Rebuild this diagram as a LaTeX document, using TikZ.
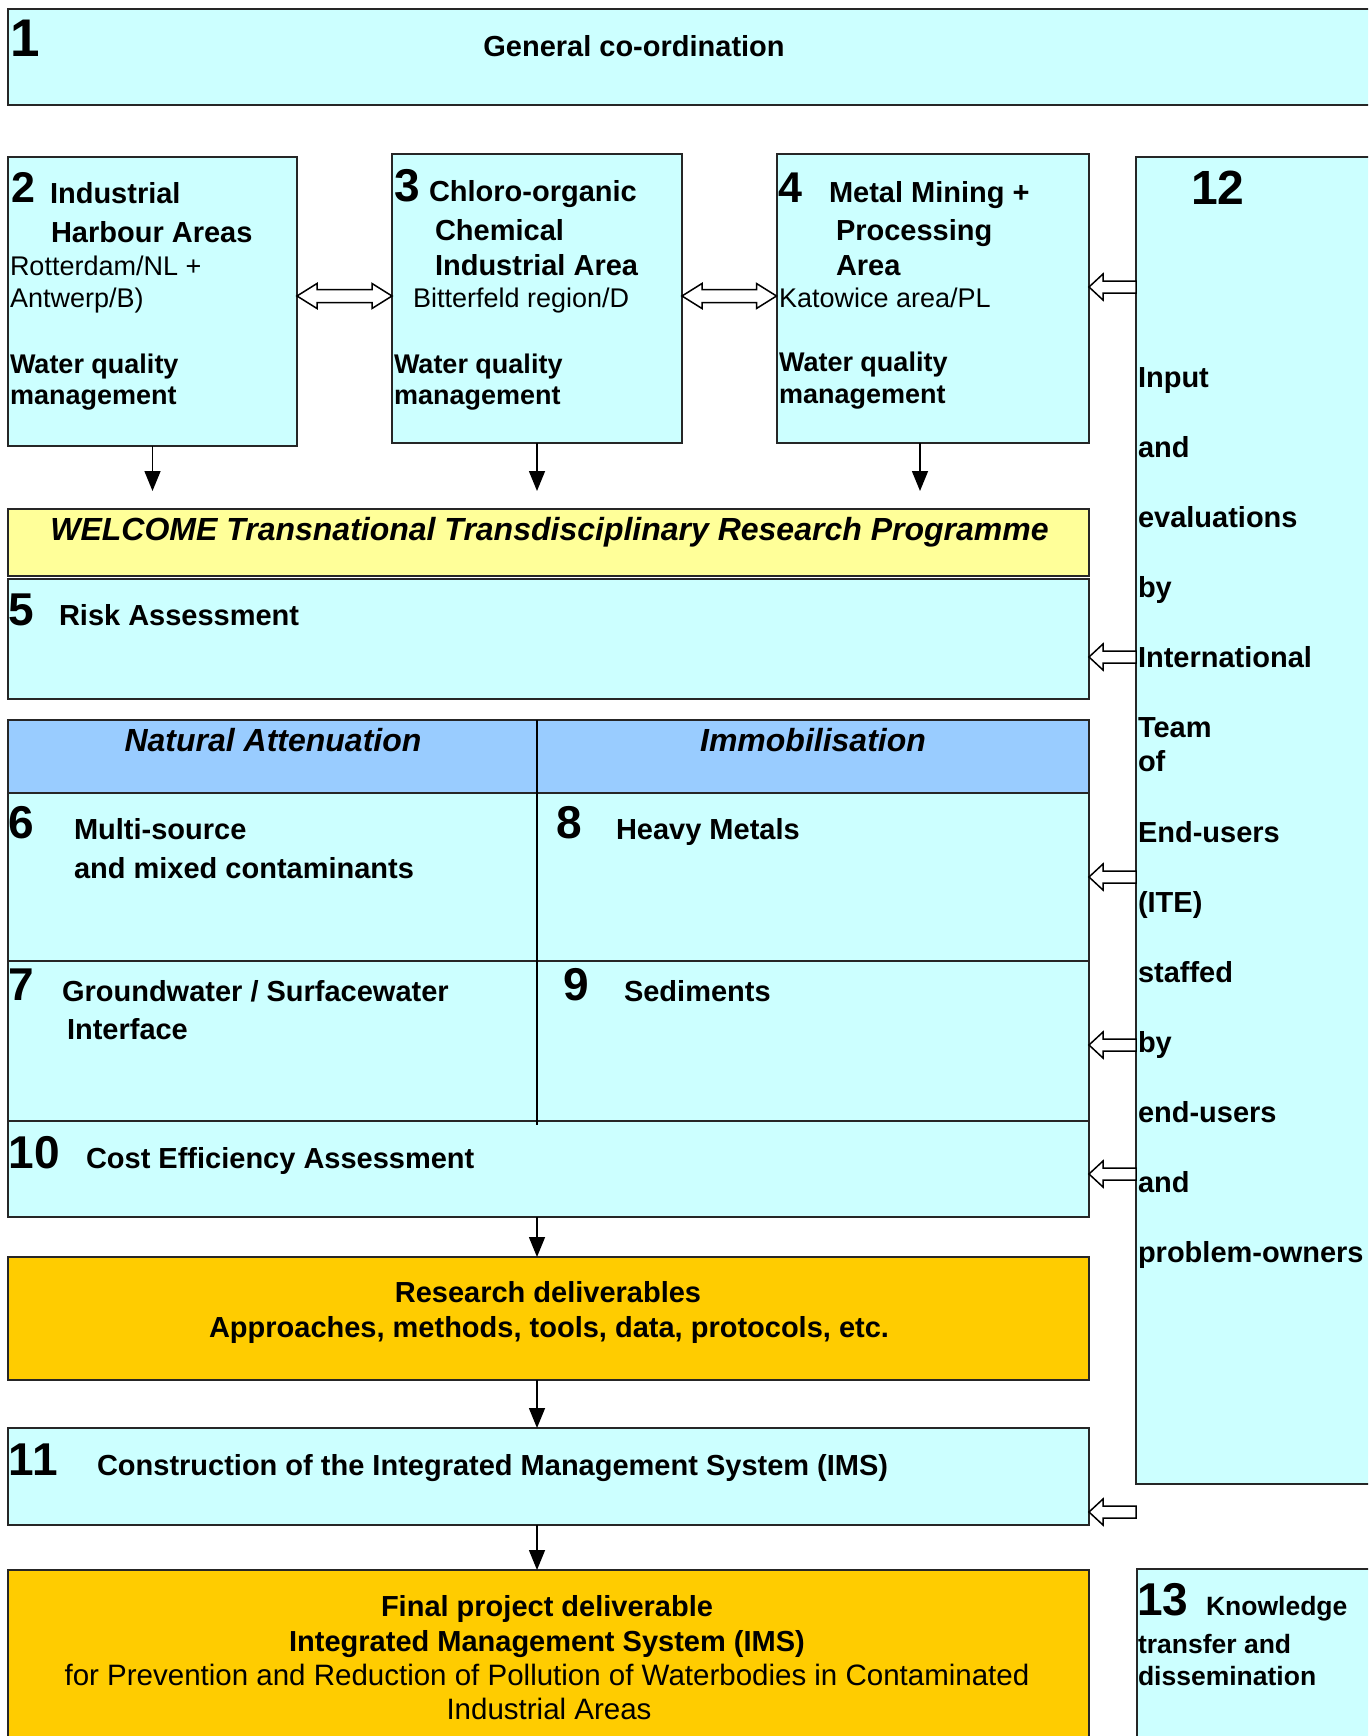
\documentclass[tikz,border=0pt]{standalone}
\usepackage{fontspec}
\setmainfont{Liberation Sans}
\usetikzlibrary{calc,arrows.meta}
\definecolor{cyanc}{HTML}{CCFFFF}
\definecolor{yelc}{HTML}{FFFF99}
\definecolor{bluec}{HTML}{99CCFF}
\definecolor{orac}{HTML}{FFCC00}
\newcommand\harrowL[2]{\draw[hollow] let \p1=(#1),\p2=(#2) in
  (\x1,\y1+6pt) -- (\x2+14pt,\y1+6pt) -- (\x2+14pt,\y1+13pt) -- (\x2,\y1) --
  (\x2+14pt,\y1-13pt) -- (\x2+14pt,\y1-6pt) -- (\x1,\y1-6pt) -- cycle;}
\newcommand\harrowLR[2]{\draw[hollow] let \p1=(#1),\p2=(#2) in
  (\x1,\y1) -- (\x1+20pt,\y1+12.5pt) -- (\x1+20pt,\y1+6.5pt) -- (\x2-20pt,\y1+6.5pt) --
  (\x2-20pt,\y1+12.5pt) -- (\x2,\y1) -- (\x2-20pt,\y1-12.5pt) -- (\x2-20pt,\y1-6.5pt) --
  (\x1+20pt,\y1-6.5pt) -- (\x1+20pt,\y1-12.5pt) -- cycle;}
\begin{document}
\begin{tikzpicture}[x=1pt,y=-1pt,
  box/.style={draw=black!85, line width=2pt, inner sep=0, outer sep=0, anchor=north west},
  darrow/.style={line width=1.5pt, -{Triangle[length=20pt,width=16pt]}},
  hollow/.style={draw=black, line width=1.5pt, fill=white, line join=miter},
  tl/.style={inner sep=0, outer sep=0, anchor=base west},
  tc/.style={inner sep=0, outer sep=0, anchor=base},
  fT/.style={font=\fontsize{29}{35}\selectfont\bfseries},
  fTI/.style={font=\fontsize{32}{36}\selectfont\bfseries\itshape},
  fB/.style={font=\fontsize{27}{32}\selectfont\bfseries},
  fR/.style={font=\fontsize{27}{32}\selectfont},
  fRL/.style={font=\fontsize{29.5}{34}\selectfont},
  fK/.style={font=\fontsize{26.5}{32}\selectfont\bfseries},
  num/.style={font=\fontsize{46}{50}\selectfont\bfseries},
]
\useasboundingbox (0,0) rectangle (1368,1736);
\clip (0,0) rectangle (1368,1736);

% boxes
\node[box,fill=cyanc,minimum width=1392,minimum height=96] (b1) at (8,9) {};
\node[box,fill=cyanc,minimum width=289,minimum height=289] (b2) at (8,157) {};
\node[box,fill=cyanc,minimum width=290,minimum height=289] (b3) at (392,154) {};
\node[box,fill=cyanc,minimum width=312.5,minimum height=289] (b4) at (776.5,154) {};
\node[box,fill=cyanc,minimum width=264,minimum height=1327] (b12) at (1136,157) {};
\node[box,fill=yelc,minimum width=1081,minimum height=67] (wel) at (8,509) {};
\node[box,fill=cyanc,minimum width=1081,minimum height=120] (b5) at (8,579) {};
\node[box,fill=bluec,minimum width=1081,minimum height=73] (hdr) at (8,720) {};
\node[box,fill=cyanc,minimum width=1081,minimum height=168] (row1) at (8,793) {};
\node[box,fill=cyanc,minimum width=1081,minimum height=160] (row2) at (8,961) {};
\node[box,fill=cyanc,minimum width=1081,minimum height=96] (b10) at (8,1121) {};
\node[box,fill=orac,minimum width=1081,minimum height=123] (rd) at (8,1257) {};
\node[box,fill=cyanc,minimum width=1081,minimum height=97] (b11) at (8,1428) {};
\node[box,fill=orac,minimum width=1081,minimum height=190] (fin) at (8,1570) {};
\node[box,fill=cyanc,minimum width=263,minimum height=191] (b13) at (1137,1569) {};

\coordinate (mx) at (537,0);
\draw[line width=1.2pt] (hdr.north -| mx) -- ($(row2.south -| mx)+(0,4)$);

% down arrows
\coordinate (d2) at (152.5,491);
\coordinate (d3) at (537,491);
\coordinate (d4) at (920,491);
\draw[darrow] (b2.south) -- (d2);
\draw[darrow] (b3.south) -- (d3);
\draw[darrow] (b4.south -| d4) -- (d4);
\draw[darrow] (b10.south -| mx) -- (rd.north -| mx);
\draw[darrow] (rd.south -| mx) -- (b11.north -| mx);
\draw[darrow] (b11.south -| mx) -- (fin.north -| mx);

% double hollow arrows
\coordinate (ya) at (0,296);
\harrowLR{b2.east |- ya}{b3.west |- ya}
\harrowLR{b3.east |- ya}{b4.west |- ya}

% hollow arrows from 12
\coordinate (y1) at (0,287);
\coordinate (y2) at (0,657);
\coordinate (y3) at (0,877);
\coordinate (y4) at (0,1045);
\coordinate (y5) at (0,1174);
\coordinate (t11) at (1136,1512);
\harrowL{b12.west |- y1}{b4.east |- y1}
\harrowL{b12.west |- y2}{b5.east |- y2}
\harrowL{b12.west |- y3}{row1.east |- y3}
\harrowL{b12.west |- y4}{row2.east |- y4}
\harrowL{b12.west |- y5}{b10.east |- y5}
\harrowL{t11}{b11.east |- t11}

% texts box 1
\node[tl,font=\fontsize{53}{56}\selectfont\bfseries] (n1) at (10,57) {1};
\node[tc,fT] (g1) at (634,57) {General co-ordination};

% box 2
\node[tl,font=\fontsize{43}{50}\selectfont\bfseries] (n2) at (11,203) {2};
\node[tl,fT] (t2a) at (50,204) {Industrial};
\node[tl,fT] (t2b) at (51,243) {Harbour Areas};
\node[tl,fR] (t2c) at (10,275) {Rotterdam/NL +};
\node[tl,fR] (t2d) at (10,307) {Antwerp/B)};
\node[tl,fB] (t2e) at (10,373) {Water quality};
\node[tl,fB] (t2f) at (10,404) {management};

% box 3
\node[tl,num] (n3) at (394,202) {3};
\node[tl,fT] (t3a) at (429,202) {Chloro-organic};
\node[tl,fT] (t3b) at (435,241) {Chemical};
\node[tl,fT] (t3c) at (435,276) {Industrial Area};
\node[tl,fR] (t3d) at (413,307) {Bitterfeld region/D};
\node[tl,fB] (t3e) at (394,373) {Water quality};
\node[tl,fB] (t3f) at (394,404) {management};

% box 4
\node[tl,font=\fontsize{43}{50}\selectfont\bfseries] (n4) at (778,203) {4};
\node[tl,fT] (t4a) at (829,203) {Metal Mining +};
\node[tl,fT] (t4b) at (836,241) {Processing};
\node[tl,fT] (t4c) at (836,276) {Area};
\node[tl,fR] (t4d) at (779,307) {Katowice area/PL};
\node[tl,fB] (t4e) at (779,371) {Water quality};
\node[tl,fB] (t4f) at (779,403) {management};

% box 12
\node[tl,font=\fontsize{48}{50}\selectfont\bfseries] (n12) at (1191,205) {12};
\foreach \yy/\ww [count=\i] in {387/Input, 457/and, 527/evaluations, 597/by,
  667/International, 737/Team, 771/of, 842/End-users, 912/(ITE), 982/staffed,
  1052/by, 1122/end-users, 1192/and, 1262/problem-owners}
  \node[tl,fT] (w12-\i) at (1138,\yy) {\ww};

% welcome and 5
\node[tc,fTI] (tw) at (549.5,540) {WELCOME Transnational Transdisciplinary Research Programme};
\node[tl,num] (n5) at (9,625) {5};
\node[tl,fT] (t5) at (59,625) {Risk Assessment};

% table
\node[tc,fTI] (th1) at (273,751) {Natural Attenuation};
\node[tc,fTI] (th2) at (813,751) {Immobilisation};
\node[tl,num] (n6) at (9,838) {6};
\node[tl,fT] (t6a) at (74,839) {Multi-source};
\node[tl,fT] (t6b) at (74,878) {and mixed contaminants};
\node[tl,num] (n8) at (556,838) {8};
\node[tl,fT] (t8) at (616,839) {Heavy Metals};
\node[tl,num] (n7) at (9,1000) {7};
\node[tl,fT] (t7a) at (62,1001) {Groundwater / Surfacewater};
\node[tl,fT] (t7b) at (67,1039) {Interface};
\node[tl,num] (n9) at (563,1000) {9};
\node[tl,fT] (t9) at (624,1001) {Sediments};

% 10
\node[tl,num] (n10) at (9,1168) {10};
\node[tl,fT] (t10) at (86,1168) {Cost Efficiency Assessment};

% research deliverables
\node[tc,fT] (trd1) at (548,1302) {Research deliverables};
\node[tc,fT] (trd2) at (549,1337) {Approaches, methods, tools, data, protocols, etc.};

% 11
\node[tl,num] (n11) at (9,1475) {11};
\node[tl,fT] (t11t) at (97,1475) {Construction of the Integrated Management System (IMS)};

% final
\node[tc,fT] (tf1) at (547,1616) {Final project deliverable};
\node[tc,fT] (tf2) at (547,1651) {Integrated Management System (IMS)};
\node[tc,fRL] (tf3) at (547,1685) {for Prevention and Reduction of Pollution of Waterbodies in Contaminated};
\node[tc,fRL] (tf4) at (549,1719) {Industrial Areas};

% 13
\node[tl,num] (n13) at (1137,1615) {13};
\node[tl,fK] (t13a) at (1206,1615) {Knowledge};
\node[tl,fK] (t13b) at (1138,1653) {transfer and};
\node[tl,fK] (t13c) at (1138,1685) {dissemination};
\end{tikzpicture}
\end{document}
